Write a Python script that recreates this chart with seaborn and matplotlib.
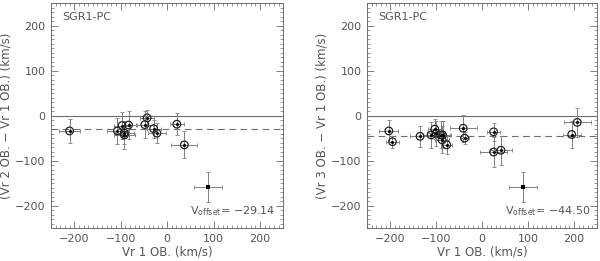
import numpy as np
import pandas as pd
import matplotlib
matplotlib.use("Agg")
import matplotlib.pyplot as plt
import seaborn as sns
from matplotlib.ticker import MultipleLocator

# ---- data ----
# left panel: Vr1 vs (Vr2 - Vr1)
left_x = [-210, -107, -97, -92, -92, -83, -48, -43, -29, -22, 21, 37]
left_y = [-34, -34, -22, -39, -43, -21, -20, -5, -29, -39, -19, -65]
left_xerr = [22, 22, 18, 20, 22, 15, 17, 15, 15, 20, 15, 28]
left_yerr = [26, 28, 30, 25, 32, 32, 30, 18, 20, 22, 25, 30]
left_offset = -29.14

# right panel: Vr1 vs (Vr3 - Vr1)
right_x = [-203, -195, -135, -111, -103, -100, -90, -86, -87, -77, -41, -38, 25, 25, 41, 195, 207]
right_y = [-34, -58, -46, -43, -30, -39, -43, -43, -54, -65, -28, -50, -36, -81, -77, -42, -15]
right_xerr = [21, 15, 22, 18, 15, 20, 20, 18, 15, 12, 29, 9, 15, 29, 23, 20, 29]
right_yerr = [25, 13, 24, 28, 22, 28, 30, 30, 30, 20, 30, 13, 20, 34, 32, 29, 32]
right_offset = -44.50

# rejected star (no circle), same in both panels
rej_x = [89]
rej_y = [-158]
rej_xerr = [30]
rej_yerr = [33]

label_text = "SGR1-PC"
xlabel = "Vr 1 OB. (km/s)"
ylabels = ["(Vr 2 OB. \u2212 Vr 1 OB.) (km/s)", "(Vr 3 OB. \u2212 Vr 1 OB.) (km/s)"]
offset_labels = ["\u221229.14", "\u221244.50"]

sns.set_theme(style="white")
plt.rcParams['font.family'] = ['DejaVu Sans']

GRAY = "#6e6e6e"
TXT = "#555555"

fig = plt.figure(figsize=(6.0, 2.61), dpi=100)
ax1 = fig.add_axes([0.085, 0.126, 0.387, 0.862])
ax2 = fig.add_axes([0.612, 0.126, 0.383, 0.862])

panels = [
    (ax1, left_x, left_y, left_xerr, left_yerr, left_offset, ylabels[0], offset_labels[0]),
    (ax2, right_x, right_y, right_xerr, right_yerr, right_offset, ylabels[1], offset_labels[1]),
]

for ax, xs, ys, xe, ye, off, ylab, offlab in panels:
    ax.set_facecolor("white")
    ax.axhline(0, color=GRAY, lw=0.8, zorder=1)
    ax.axhline(off, color=GRAY, lw=0.8, ls=(0, (6, 4)), zorder=1)
    ax.errorbar(xs, ys, xerr=xe, yerr=ye, fmt='none', ecolor="#808080",
                elinewidth=0.7, capsize=1.5, capthick=0.6, zorder=2)
    ax.errorbar(rej_x, rej_y, xerr=rej_xerr, yerr=rej_yerr, fmt='none',
                ecolor="#808080", elinewidth=0.7, capsize=1.5, capthick=0.6, zorder=2)
    df = pd.DataFrame({"x": xs, "y": ys})
    sns.scatterplot(data=df, x="x", y="y", ax=ax, s=30, marker="o",
                    facecolor="none", edgecolor="#222222", linewidth=0.9, zorder=3)
    sns.scatterplot(data=df, x="x", y="y", ax=ax, s=5, marker="o",
                    color="black", linewidth=0, zorder=4)
    dfr = pd.DataFrame({"x": rej_x, "y": rej_y})
    sns.scatterplot(data=dfr, x="x", y="y", ax=ax, s=5, marker="s",
                    color="black", linewidth=0, zorder=4)

    ax.set_xlim(-250, 250)
    ax.set_ylim(-250, 250)
    ax.xaxis.set_major_locator(MultipleLocator(100))
    ax.yaxis.set_major_locator(MultipleLocator(100))
    ax.xaxis.set_minor_locator(MultipleLocator(10))
    ax.yaxis.set_minor_locator(MultipleLocator(10))
    ax.tick_params(which='both', direction='in', top=True, right=True,
                   bottom=True, left=True,
                   color=GRAY, labelcolor=TXT, labelsize=8)
    ax.tick_params(which='major', length=5, width=0.6, pad=4)
    ax.tick_params(which='minor', length=2.5, width=0.5)
    for sp in ax.spines.values():
        sp.set_color(GRAY)
        sp.set_linewidth(0.7)
    ax.set_xlabel(xlabel, color=TXT, fontsize=8.5, labelpad=1)
    ax.set_ylabel(ylab, color=TXT, fontsize=8.5, labelpad=2)
    ax.text(-226, 220, label_text, color=TXT, fontsize=8, va='center', ha='left')
    ax.text(50, -212, "V$_{\\rm offset}$= " + offlab, color=TXT, fontsize=8,
            va='center', ha='left')

fig.savefig("out.png", dpi=100)
